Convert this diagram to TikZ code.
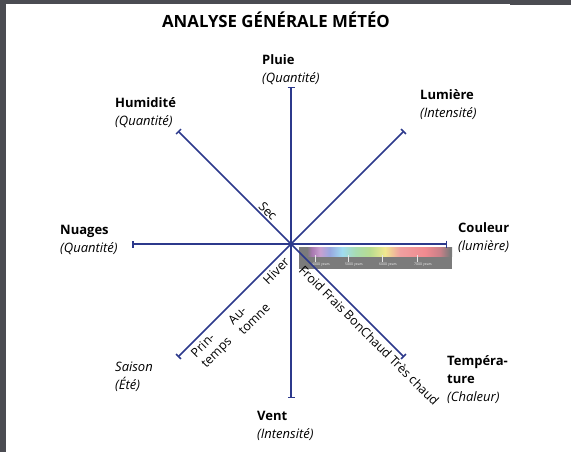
\documentclass[tikz,border=0pt]{standalone}
\usepackage{fontspec}
\setmainfont{Open Sans}
\usetikzlibrary{arrows.meta}
\definecolor{axis}{RGB}{44,57,140}
\definecolor{frame}{RGB}{75,76,82}
\definecolor{specgray}{RGB}{123,123,123}
\definecolor{spA}{RGB}{168,120,176}
\definecolor{spB}{RGB}{200,160,208}
\definecolor{spC}{RGB}{152,168,224}
\definecolor{spD}{RGB}{160,220,240}
\definecolor{spE}{RGB}{168,220,176}
\definecolor{spF}{RGB}{184,220,144}
\definecolor{spG}{RGB}{240,232,144}
\definecolor{spH}{RGB}{240,160,160}
\definecolor{spI}{RGB}{240,138,144}
\definecolor{spJ}{RGB}{200,128,136}
\pgfdeclarehorizontalshading{spectrum}{100bp}{color(0bp)=(specgray); color(27.6bp)=(specgray); color(29.2bp)=(spA); color(31.9bp)=(spB); color(35.1bp)=(spC); color(39.1bp)=(spD); color(43.6bp)=(spE); color(48.2bp)=(spF); color(53.1bp)=(spG); color(58bp)=(spH); color(66.2bp)=(spI); color(71.1bp)=(spJ); color(74.3bp)=(specgray); color(100bp)=(specgray)}
\tikzset{
  spoke/.style={draw=axis, line width=1.5pt, -{Bar[width=7pt,line width=1.5pt]}},
  lbl/.style={inner sep=0pt, align=left, anchor=north west, font=\fontsize{13}{18}\selectfont},
  rlbl/.style={inner sep=0pt, align=left, font=\fontsize{12.5}{14.5}\selectfont},
  tick/.style={draw=white!80!gray, line width=0.5pt},
  ticklbl/.style={inner sep=0pt, anchor=west, text=white!90!gray, font=\fontsize{3.5}{4}\selectfont}
}
\begin{document}
\begin{tikzpicture}[x=1pt,y=-1pt]
\useasboundingbox (0,0) rectangle (571,452);
\fill[white] (0,0) rectangle (571,452);
% frame
\fill[frame] (0,0) rectangle (6,452);
\fill[frame] (0,0) rectangle (571,4);
\fill[frame] (510,0) rectangle (571,5);
% title
\node[inner sep=0pt, font=\fontsize{16.8}{20}\selectfont\bfseries] (title) at (276,20) {ANALYSE GÉNÉRALE MÉTÉO};
% spectrum box
\fill[specgray] (299,247) rectangle (452,269);
\fill[shading=spectrum] (299,247) rectangle (452,256.5);
\foreach \x/\t [count=\i] in {315/4000,348/5000,382/6000,417/7000}{
  \coordinate (tk\i) at (\x,255);
  \coordinate (tb\i) at (\x,262);
  \draw[tick] (tk\i) -- (tb\i);
  \node[ticklbl] (tl\i) at (\x-3,264.5) {\t\ years};
}
% spokes
\coordinate (c) at (291,244);
\coordinate (eN) at (291,87);
\coordinate (eS) at (291,398);
\coordinate (eW) at (132,244);
\coordinate (eE) at (447,244);
\coordinate (eNW) at (178,131);
\coordinate (eNE) at (404,131);
\coordinate (eSW) at (178,357);
\coordinate (eSE) at (404,357);
\foreach \e in {eN,eS,eW,eE,eNW,eNE,eSW,eSE}{ \draw[spoke] (c) -- (\e); }
% labels
\node[lbl] (pluie) at (262,54) {\textbf{Pluie}\\\textit{(Quantité)}};
\node[lbl] (humid) at (115,97) {\textbf{Humidité}\\\textit{(Quantité)}};
\node[lbl] (lum) at (420,89) {\textbf{Lumière}\\\textit{(Intensité)}};
\node[lbl] (coul) at (458,222) {\textbf{Couleur}\\\textit{(lumière)}};
\node[lbl] (nuag) at (60,225) {\textbf{Nuages}\\\textit{(Quantité)}};
\node[lbl] (sais) at (115,362) {\textit{Saison}\\\textit{(Été)}};
\node[lbl] (temp) at (447,355) {\textbf{Tempéra-}\\\textbf{ture}\\\textit{(Chaleur)}};
\node[lbl] (vent) at (257,411) {\textbf{Vent}\\\textit{(Intensité)}};
% rotated labels
\node[rlbl, rotate=-45] (sec) at (268,211) {Sec};
\node[rlbl, rotate=45] (hiver) at (276,271) {Hiver};
\node[rlbl, rotate=45] (autom) at (249,314) {Au-\\tomne};
\node[rlbl, rotate=45] (print) at (212,348) {Prin-\\temps};
\node[rlbl, rotate=-45, anchor=north west] (chal) at (305,264) {Froid Frais BonChaud Très chaud};
\end{tikzpicture}
\end{document}
